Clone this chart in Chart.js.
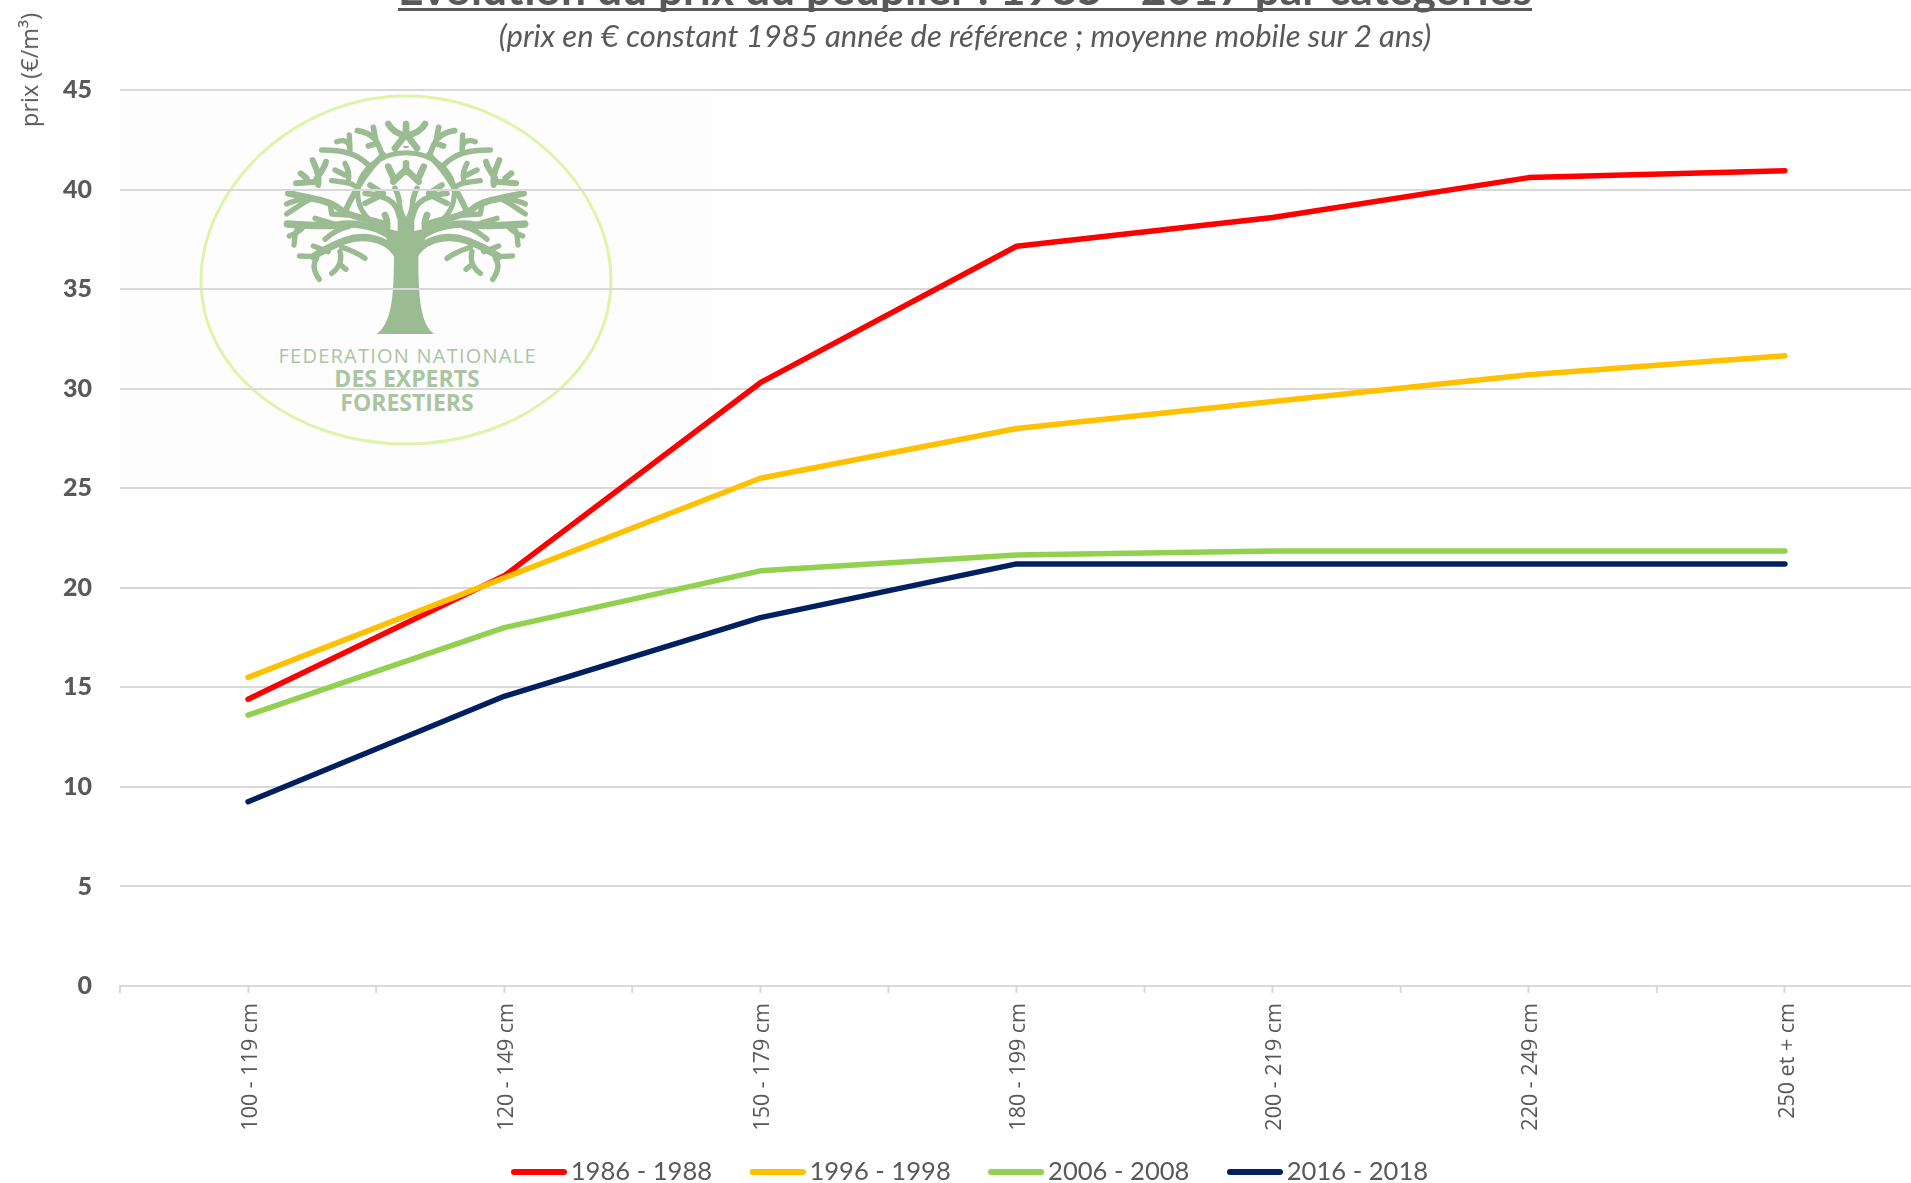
<!DOCTYPE html>
<html lang="fr">
<head>
<meta charset="utf-8">
<title>Evolution du prix du peuplier</title>
<script src="https://cdn.jsdelivr.net/npm/chart.js@4/dist/chart.umd.min.js"></script>
<style>
html,body{margin:0;padding:0;background:#fff;width:1911px;height:1183px;overflow:hidden}
#logo{position:absolute;left:0;top:0;z-index:0}
#c{position:absolute;left:0;top:0;z-index:1}
.t{position:absolute;z-index:2;left:0;width:1930px;text-align:center;color:#595959;white-space:nowrap;font-family:Lato}
#title{top:-36px;font-weight:700;font-size:44.4px;line-height:48px;text-decoration:underline;text-decoration-thickness:3px;text-underline-offset:3px;text-decoration-skip-ink:none}
#sub{top:16px;font-style:italic;font-size:31px;line-height:38px}
#ylab{position:absolute;z-index:2;left:29px;top:70px;transform:translate(-50%,-50%) rotate(-90deg);font-family:"Open Sans";font-size:23.5px;color:#595959;white-space:nowrap}
</style>
</head>
<body>
<svg id="logo" width="1911" height="1183" xmlns="http://www.w3.org/2000/svg">
  <rect x="120" y="91" width="592" height="406" fill="#fdfdfd"/>
  <path d="M406 96C520 96 611 190 611 280C611 375 515 444 406 444C297 444 201 375 201 280C201 190 292 96 406 96Z" fill="none" stroke="#dcf5a8" stroke-width="3"/>
  <svg x="270" y="110" width="272" height="240" viewBox="0 0 816 720">
    <g fill="none" stroke="#9bbb92" stroke-linecap="round" stroke-linejoin="round">
      <path d="M320 672C365 640 372 560 372 430L445 430C445 560 450 640 492 672Z" fill="#9bbb92" stroke="none"/>
      <path d="M372 440L345 375L470 375L445 440Z" fill="#9bbb92" stroke="none"/>
      <ellipse cx="408" cy="250" rx="145" ry="122" stroke-width="15"/>
      <path d="M408 390V320" stroke-width="50"/>
      <path d="M408 105L408 42M408 78C385 72 365 60 355 42M408 78C435 72 455 60 465 42M375 115L408 72L441 115" stroke-width="20"/>
      <path d="M370 215L408 178L446 215M408 185V160M372 208L355 170M444 208L461 170" stroke-width="20"/>
      <g id="half">
        <path d="M375 425C345 385 280 372 225 392C190 405 160 420 130 440" stroke-width="22"/>
        <path d="M175 425L130 408M135 440L88 438M140 445C125 465 135 490 148 508M215 412C240 420 265 430 285 445M210 425C218 455 205 475 185 490M212 465L228 478" stroke-width="16"/>
        <path d="M370 385C330 352 260 335 200 345C150 350 100 345 52 342" stroke-width="22"/>
        <path d="M100 350C90 365 75 370 58 378M80 360C70 385 75 395 72 405M235 350C210 355 185 370 165 388M185 340L135 325" stroke-width="16"/>
        <path d="M350 345C300 325 240 325 200 290C170 270 120 265 55 250" stroke-width="20"/>
        <path d="M180 280L185 312L235 315M120 268C95 280 70 300 50 312M110 262C90 270 60 275 50 282" stroke-width="16"/>
        <path d="M225 305C255 240 290 180 340 135" stroke-width="18"/>
        <path d="M295 165C260 130 220 120 155 120M240 120C240 100 230 85 200 95M240 115L238 75" stroke-width="16"/>
        <path d="M335 130C325 100 315 70 262 62M318 95L310 52M322 100L295 108" stroke-width="17"/>
        <path d="M145 225C150 190 135 170 128 150M140 205C155 185 165 170 168 155M140 215L78 220M110 205L92 190" stroke-width="18"/>
        <path d="M250 225C235 215 200 215 185 212M235 210C240 190 232 175 225 160M225 195L195 180" stroke-width="16"/>
        <path d="M388 320C380 270 340 255 285 250M330 258L285 280M340 250L300 225M395 325C390 295 392 265 375 235" stroke-width="17"/>
        <path d="M345 315C355 335 352 355 348 370" stroke-width="20"/>
      </g>
      <use href="#half" transform="translate(816,0) scale(-1,1)"/>
      <path d="M408 245C396 268 390 285 408 320C426 285 420 268 408 245Z" fill="#fdfdfd" stroke="none"/>
      <path d="M408 88L394 108H422Z" fill="#fdfdfd" stroke="none"/>
    </g>
  </svg>
  <g font-family="Open Sans" text-anchor="middle" fill="#a9c5a1">
    <text x="407" y="363" font-size="20" textLength="257">FEDERATION NATIONALE</text>
    <text x="407" y="387" font-size="23" font-weight="700">DES EXPERTS</text>
    <text x="407" y="411" font-size="23" font-weight="700">FORESTIERS</text>
  </g>
</svg>
<canvas id="c" width="1913" height="1183"></canvas>
<div class="t" id="title">Evolution du prix du peuplier : 1985 - 2017 par catégories</div>
<div class="t" id="sub">(prix en € constant 1985 année de référence ; moyenne mobile sur 2 ans)</div>
<div id="ylab">prix (€/m³)</div>
<script>
const categories = ["100 - 119 cm","120 - 149 cm","150 - 179 cm","180 - 199 cm","200 - 219 cm","220 - 249 cm","250 et + cm"];
const serie1986 = [14.4,20.6,30.3,37.15,38.6,40.6,40.95];
const serie1996 = [15.5,20.5,25.5,28.0,29.35,30.7,31.65];
const serie2006 = [13.6,18.0,20.85,21.65,21.85,21.85,21.85];
const serie2016 = [9.25,14.55,18.5,21.2,21.2,21.2,21.2];
const seriesNames = ["1986 - 1988","1996 - 1998","2006 - 2008","2016 - 2018"];
const seriesColors = ["#ff0000","#ffc000","#92d050","#002060"];
const seriesValues = [serie1986,serie1996,serie2006,serie2016];

const GREY = "#d9d9d9", TEXT = "#595959";
const PLOT_BOTTOM = 986, LEGEND_CENTER_Y = 1172, LEGEND_CENTER_X = 974;

function legendSwatch(color){
  const s = document.createElement("canvas");
  s.width = 56; s.height = 6;
  const g = s.getContext("2d");
  g.fillStyle = color;
  g.beginPath(); g.roundRect(0,0,56,6,3); g.fill();
  return s;
}

const axisExtras = {
  id:"axisExtras",
  afterLayout(chart){
    const lg = chart.legend, w = lg.right - lg.left;
    lg.left = LEGEND_CENTER_X - w/2;
    lg.right = lg.left + w;
    lg.top = LEGEND_CENTER_Y - lg.options.labels.padding - lg.options.labels.font.size/2;
    chart.scales.x.bottom = chart.height;
  },
  afterDatasetsDraw(chart){
    const x = chart.scales.x, half = (x.getPixelForValue(1)-x.getPixelForValue(0))/2, c = chart.ctx;
    c.save(); c.strokeStyle = GREY; c.lineWidth = 2; c.beginPath();
    for(let i=0;i<categories.length;i++){
      const p = x.getPixelForValue(i)-half;
      c.moveTo(p,PLOT_BOTTOM); c.lineTo(p,PLOT_BOTTOM+7);
    }
    c.stroke(); c.restore();
  }
};

new Chart(document.getElementById("c"),{
  type:"line",
  data:{
    labels:categories,
    datasets:seriesNames.map((name,i)=>({
      label:name,data:seriesValues[i],borderColor:seriesColors[i],backgroundColor:seriesColors[i],
      borderWidth:5.5,borderCapStyle:"round",borderJoinStyle:"round",tension:0,pointRadius:0,fill:false,
      order:seriesNames.length-i
    }))
  },
  plugins:[axisExtras],
  options:{
    responsive:false,animation:false,
    layout:{padding:{top:90,left:0,right:0,bottom:0}},
    plugins:{
      title:{display:false},tooltip:{enabled:false},
      legend:{
        position:"bottom",align:"center",
        labels:{
          usePointStyle:true,pointStyleWidth:38,padding:46.5,color:TEXT,
          font:{family:"Lato",size:25.6},
          sort:(a,b)=>a.datasetIndex-b.datasetIndex,
          generateLabels(chart){
            return Chart.defaults.plugins.legend.labels.generateLabels(chart).map(l=>{
              l.pointStyle = legendSwatch(seriesColors[l.datasetIndex]);
              return l;
            });
          }
        }
      }
    },
    scales:{
      x:{
        type:"category",offset:true,
        grid:{display:true,offset:false,drawOnChartArea:false,drawTicks:true,tickLength:7,tickWidth:2,tickColor:GREY},
        border:{display:true,color:GREY,width:2},
        ticks:{autoSkip:false,minRotation:90,maxRotation:90,color:TEXT,padding:10,labelOffset:2.5,font:{family:"Open Sans",size:21.5}},
        afterFit(s){ s.height = 1183-PLOT_BOTTOM-s.chart.legend.height; s.paddingLeft=0; s.paddingRight=0; }
      },
      y:{
        min:0,max:45,
        grid:{color:GREY,lineWidth:2,drawTicks:false},
        border:{display:false},
        ticks:{stepSize:5,color:TEXT,padding:28,font:{family:"Lato",size:25,weight:"900"}},
        afterFit(s){ s.width = 120; s.paddingTop=0; s.paddingBottom=0; }
      }
    }
  }
});
</script>
</body>
</html>
